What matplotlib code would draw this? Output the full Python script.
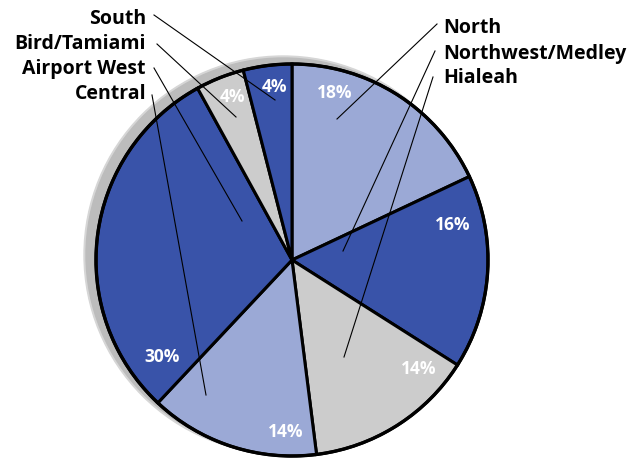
import matplotlib
matplotlib.use("Agg")
import matplotlib.pyplot as plt
from matplotlib.patches import Circle

# Share of cases by district, clockwise from 12 o'clock
districts = ["North", "Northwest/Medley", "Hialeah", "Central",
             "Airport West", "Bird/Tamiami", "South"]
shares = [18, 16, 14, 14, 30, 4, 4]
colors = ["#9ba9d6", "#3953a9", "#cccccc", "#9ba9d6",
          "#3953a9", "#cccccc", "#3953a9"]

W, H = 642, 459
CX, CY, R = 292, 260, 196


def py(y):
    # pixel row -> data y (origin at bottom)
    return H - y


# percent label positions (pixel coords)
pct_pos = [(335, 93), (453, 225), (419, 369), (286, 432),
           (162, 357), (232, 97), (274, 87)]

# district name placement: (x, baseline y, ha)
name_pos = {
    "North": (443, 33, "left"),
    "Northwest/Medley": (443, 59, "left"),
    "Hialeah": (443, 83, "left"),
    "South": (146, 24, "right"),
    "Bird/Tamiami": (146, 49, "right"),
    "Airport West": (146, 74, "right"),
    "Central": (146, 99, "right"),
}

# leader lines: start near the name, end inside the wedge
leaders = {
    "North": ((437, 24), (337, 119)),
    "Northwest/Medley": ((435, 51), (343, 251)),
    "Hialeah": ((433, 77), (344, 357)),
    "South": ((154, 15), (275, 100)),
    "Bird/Tamiami": ((157, 44), (236, 117)),
    "Airport West": ((154, 68), (242, 221)),
    "Central": ((152, 95), (206, 395)),
}

fig = plt.figure(figsize=(W / 100, H / 100), dpi=100)
ax = fig.add_axes([0, 0, 1, 1])

# drop shadow behind the pie
ax.add_patch(Circle((CX - 9, py(CY - 5)), R + 3, color="#d6d6d6", zorder=0))
ax.add_patch(Circle((CX - 9, py(CY - 5)), R + 1, color="#bcbcbc", zorder=0))

wedges, _ = ax.pie(shares, colors=colors, startangle=90, counterclock=False,
                   center=(CX, py(CY)), radius=R,
                   wedgeprops=dict(edgecolor="black", linewidth=2.2))
ax.add_patch(Circle((CX, py(CY)), R, fill=False, edgecolor="black",
                    linewidth=2.4, zorder=3))

for (x, y), v in zip(pct_pos, shares):
    ax.text(x, py(y), f"{v}%", ha="center", va="center", color="white",
            fontsize=12.5, fontweight="bold", family="Open Sans", zorder=5)

for name in districts:
    (x0, y0), (x1, y1) = leaders[name]
    ax.plot([x0, x1], [py(y0), py(y1)], color="black", linewidth=0.8, zorder=4)
    x, y, ha = name_pos[name]
    ax.text(x, py(y), name, ha=ha, va="baseline", color="black",
            fontsize=14, fontweight="bold", family="Open Sans", zorder=5)

ax.set_xlim(0, W)
ax.set_ylim(0, H)
ax.set_aspect("equal")
ax.axis("off")

fig.savefig("out.png", dpi=100)
